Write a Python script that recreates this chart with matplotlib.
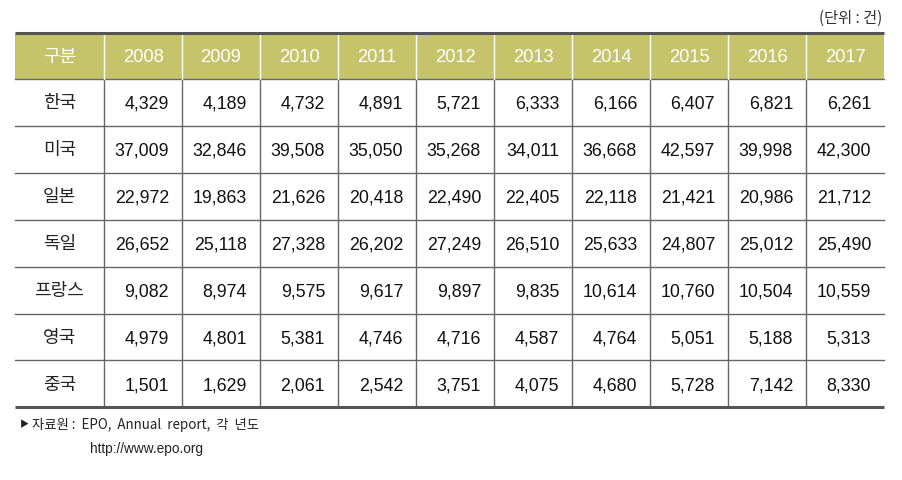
import matplotlib
matplotlib.use("Agg")
import matplotlib.pyplot as plt
from matplotlib import font_manager
from matplotlib.patches import Rectangle

plt.rcParams['font.family'] = ['Noto Sans CJK KR', 'DejaVu Sans']

years = ["2008", "2009", "2010", "2011", "2012", "2013", "2014", "2015", "2016", "2017"]
countries = ["한국", "미국", "일본", "독일", "프랑스", "영국", "중국"]
korea = [4329, 4189, 4732, 4891, 5721, 6333, 6166, 6407, 6821, 6261]
usa = [37009, 32846, 39508, 35050, 35268, 34011, 36668, 42597, 39998, 42300]
japan = [22972, 19863, 21626, 20418, 22490, 22405, 22118, 21421, 20986, 21712]
germany = [26652, 25118, 27328, 26202, 27249, 26510, 25633, 24807, 25012, 25490]
france = [9082, 8974, 9575, 9617, 9897, 9835, 10614, 10760, 10504, 10559]
uk = [4979, 4801, 5381, 4746, 4716, 4587, 4764, 5051, 5188, 5313]
china = [1501, 1629, 2061, 2542, 3751, 4075, 4680, 5728, 7142, 8330]
rows = [korea, usa, japan, germany, france, uk, china]
header_label = "구분"
unit_text = "(단위 : 건)"
source_marker = "▶"
source_line1 = "자료원 :  EPO,  Annual  report,  각  년도"
source_line2 = "http://www.epo.org"

names = {f.name for f in font_manager.fontManager.ttflist}
num_family = ['Liberation Sans Narrow'] if 'Liberation Sans Narrow' in names else ['Liberation Sans', 'DejaVu Sans']

W, H = 902, 481
fig = plt.figure(figsize=(W / 100, H / 100), dpi=100)
ax = fig.add_axes([0, 0, 1, 1])
ax.set_xlim(0, W)
ax.set_ylim(H, 0)
ax.axis('off')

left, first_w, col_w = 15, 89, 78
top, head_h, row_h = 34, 46, 46.9
right = left + first_w + col_w * len(years)
bottom = top + head_h + row_h * len(rows)

header_color = '#c5c46b'
line_color = '#666666'

ax.add_patch(Rectangle((left, top), right - left, head_h, facecolor=header_color, edgecolor='none', zorder=1))

# horizontal lines
ax.plot([left, right], [top, top], color='#555555', lw=2.2, zorder=3, solid_capstyle='butt')
ax.plot([left, right], [bottom, bottom], color='#555555', lw=2.2, zorder=3, solid_capstyle='butt')
for i in range(len(rows)):
    y = top + head_h + row_h * i
    ax.plot([left, right], [y, y], color=line_color, lw=1.0, zorder=2)

# vertical lines
for j in range(len(years)):
    x = left + first_w + col_w * j
    ax.plot([x, x], [top + head_h, bottom], color=line_color, lw=1.0, zorder=2)
    ax.plot([x, x], [top, top + head_h], color='white', lw=1.0, zorder=2)

fs_kr = 13
fs_num = 12.8

# header
hy = top + head_h / 2
ax.text(left + first_w / 2, hy, header_label, color='white', fontsize=fs_kr, ha='center', va='center', zorder=4)
for j, yr in enumerate(years):
    cx = left + first_w + col_w * j + col_w / 2
    ax.text(cx, hy + 1, yr, color='white', fontsize=fs_num + 0.4, family=num_family, ha='center', va='center', zorder=4)

# body
for i, (name, vals) in enumerate(zip(countries, rows)):
    cy = top + head_h + row_h * i + row_h / 2
    ax.text(left + first_w / 2, cy, name, color='#222222', fontsize=fs_kr, ha='center', va='center', zorder=4)
    for j, v in enumerate(vals):
        rx = left + first_w + col_w * (j + 1) - 13
        ax.text(rx, cy + 1, f"{v:,}", color='#111111', fontsize=fs_num, family=num_family,
                ha='right', va='center', zorder=4)

ax.text(right - 2, 18, unit_text, color='#333333', fontsize=11, ha='right', va='center')
ax.text(20, 425, source_marker, color='#222222', fontsize=6.5, ha='left', va='center')
ax.text(32, 425, source_line1, color='#222222', fontsize=9.6, ha='left', va='center')
ax.text(90, 449, source_line2, color='#222222', fontsize=9.8, family=num_family, ha='left', va='center')

fig.savefig('out.png', dpi=100)
